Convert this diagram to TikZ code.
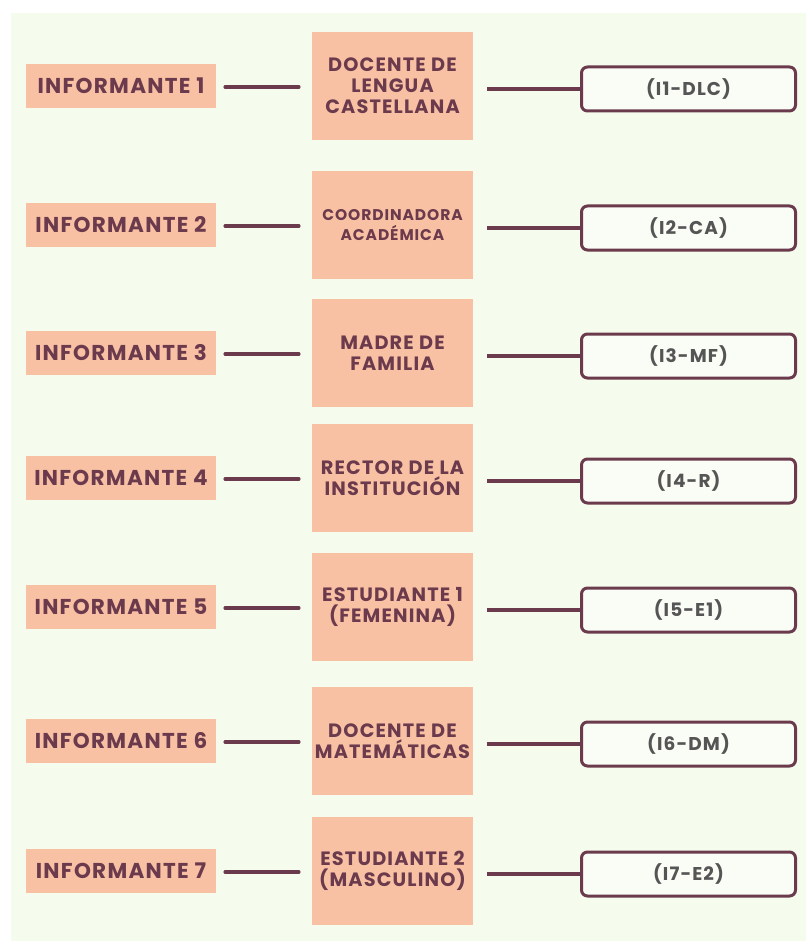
\documentclass[tikz,border=0pt]{standalone}
\usepackage{fontspec}
\setmainfont{Poppins}[UprightFont=* SemiBold, BoldFont=* Bold]
\newfontfamily\lblfont{Poppins}[UprightFont=* Bold, LetterSpace=6]
\usetikzlibrary{calc}
\definecolor{paper}{HTML}{F5FCEE}
\definecolor{peach}{HTML}{F9C1A4}
\definecolor{wine}{HTML}{6B3A4C}
\definecolor{slate}{HTML}{555555}
\tikzset{
  x=1pt, y=-1pt,
  who/.style={fill=peach, minimum width=190pt, minimum height=44pt, inner sep=0pt,
    text=wine, font=\lblfont\fontsize{21.5}{22}\selectfont},
  role/.style={fill=peach, minimum width=161pt, minimum height=108pt, inner sep=0pt,
    text=wine, align=center, font=\lblfont\fontsize{19.3}{21}\selectfont},
  smallrole/.style={role, font=\lblfont\fontsize{15.5}{20}\selectfont},
  code/.style={draw=wine, line width=3pt, rounded corners=6pt, fill=paper!60!white,
    minimum width=214pt, minimum height=44pt, inner sep=0pt,
    text=slate, font=\lblfont\fontsize{18.5}{20}\selectfont},
  link/.style={draw=wine, line width=3.5pt, line cap=round},
}
\begin{document}
\begin{tikzpicture}
% page and tinted panel
\fill[white] (0,0) rectangle (806,941);
\fill[paper] (11,13) rectangle (806,941);
\useasboundingbox (0,0) rectangle (806,941);

% rows: index / centre y / informant / role text / role style / code
\foreach \i/\y/\lab/\txt/\st/\cd in {
  1/86/INFORMANTE 1/{DOCENTE DE\\LENGUA\\CASTELLANA}/role/(I1-DLC),
  2/225/INFORMANTE 2/{COORDINADORA\\ACADÉMICA}/smallrole/(I2-CA),
  3/353/INFORMANTE 3/{MADRE DE\\FAMILIA}/role/(I3-MF),
  4/478/INFORMANTE 4/{RECTOR DE LA\\INSTITUCIÓN}/role/(I4-R),
  5/607/INFORMANTE 5/{ESTUDIANTE 1\\(FEMENINA)}/role/(I5-E1),
  6/741/INFORMANTE 6/{DOCENTE DE\\MATEMÁTICAS}/role/(I6-DM),
  7/871/INFORMANTE 7/{ESTUDIANTE 2\\(MASCULINO)}/role/(I7-E2)}{
  \node[who] (l\i) at (121,\y) {\lab};
  \node[\st] (c\i) at (392.5,\y) {\txt};
  \node[code] (r\i) at (688.5,\y+3) {\cd};
  \coordinate (a\i) at ($(l\i.east)+(9,1)$);
  \coordinate (b\i) at ($(c\i.west)+(-13,1)$);
  \coordinate (d\i) at ($(c\i.east)+(14,3)$);
  \draw[link] (a\i) -- (b\i);
  \draw[link, line cap=butt] (d\i) -- (d\i -| r\i.west);
}
\end{tikzpicture}
\end{document}
